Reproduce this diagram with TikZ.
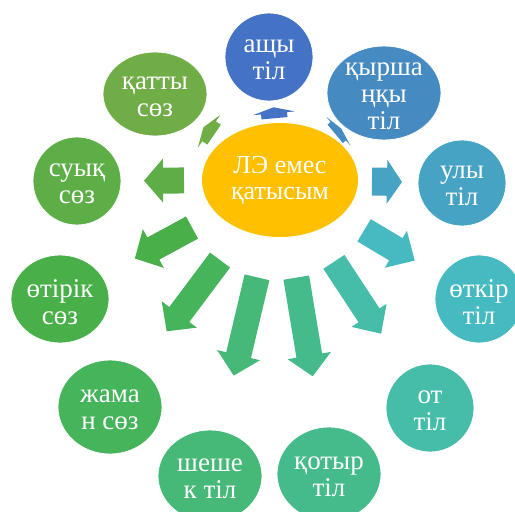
\documentclass[tikz,border=0pt]{standalone}
\usepackage{fontspec}
\setmainfont{Liberation Serif}
\usetikzlibrary{shapes.geometric,calc}

\definecolor{hubfill}{HTML}{FFC000}
\definecolor{cAshy}{HTML}{4472C4}
\definecolor{cKyr}{HTML}{468AC2}
\definecolor{cUly}{HTML}{47A3C4}
\definecolor{cOtkir}{HTML}{45BAC0}
\definecolor{cOt}{HTML}{45BDA8}
\definecolor{cKotyr}{HTML}{45BB8C}
\definecolor{cShesh}{HTML}{46B877}
\definecolor{cZham}{HTML}{46B45B}
\definecolor{cOtirik}{HTML}{49B049}
\definecolor{cSuyk}{HTML}{5EAE48}
\definecolor{cKatty}{HTML}{70AD47}

\tikzset{
  bubble/.style={ellipse, fill=#1, draw=white, line width=0.8pt, inner sep=0pt},
  bubbletext/.style={text=white, align=center, inner sep=0pt, yshift=-3pt,
                     font=\fontsize{27}{27}\selectfont},
}

% a coloured bubble with its centred caption
\newcommand\bubble[7]{%
  \node[bubble=#6, minimum width=#4pt, minimum height=#5pt,
        label={[bubbletext]center:{#7}}] (#1) at (#2,#3) {};}

% a block arrow on the line from the hub to a bubble:
% target, start, tip, head length, shaft half width, head half width, colour
\newcommand\ray[7]{%
  \pgfmathsetmacro\raybase{#3-#4}%
  \coordinate (rs) at ($(hub)!#2pt!(#1)$);
  \coordinate (rt) at ($(hub)!#3pt!(#1)$);
  \coordinate (rb) at ($(hub)!\raybase pt!(#1)$);
  \fill[#7] ($(rs)!#5pt!90:(rt)$) -- ($(rb)!#5pt!90:(rt)$)
    -- ($(rb)!#6pt!90:(rt)$) -- (rt) -- ($(rb)!#6pt!-90:(rt)$)
    -- ($(rb)!#5pt!-90:(rt)$) -- ($(rs)!#5pt!-90:(rt)$) -- cycle;}

\begin{document}
\begin{tikzpicture}[x=1pt, y=-1pt]
\useasboundingbox (0,0) rectangle (515,512);

% centre
\node[ellipse, fill=hubfill, inner sep=0pt, minimum width=156pt, minimum height=114pt,
      text=white, align=center, font=\fontsize{26}{26}\selectfont] (hub) at (280,180)
      {ЛЭ емес\\қатысым};

% surrounding bubbles
\bubble{ashy}{269}{57}{88}{88}{cAshy}{ащы\\тіл}
\bubble{kyr}{384}{93}{114}{94}{cKyr}{қырша\\ңқы\\тіл}
\bubble{uly}{462}{183}{88}{86}{cUly}{улы\\тіл}
\bubble{otkir}{479}{299}{88}{88}{cOtkir}{өткір\\тіл}
\bubble{ot}{430}{408}{88}{88}{cOt}{от\\тіл}
\bubble{kotyr}{329}{474}{104}{94}{cKotyr}{қотыр\\тіл}
\bubble{shesh}{210}{476}{104}{92}{cShesh}{шеше\\к тіл}
\bubble{zham}{110}{407}{104}{94}{cZham}{жама\\н сөз}
\bubble{otirik}{60}{299}{98}{88}{cOtirik}{өтірік\\сөз}
\bubble{suyk}{77}{181}{88}{88}{cSuyk}{суық\\сөз}
\bubble{katty}{155}{94}{104}{84}{cKatty}{қатты\\сөз}

% arrows from the centre
\ray{ashy}{62}{73}{6}{13}{21}{cAshy}
\ray{kyr}{72}{80}{4}{12}{19}{cKyr}
\ray{uly}{92}{122}{15}{14}{22}{cUly}
\ray{otkir}{98}{157}{22}{13}{21.5}{cOtkir}
\ray{ot}{98}{184}{22}{12.6}{21}{cOt}
\ray{kotyr}{99}{199}{21}{13}{22}{cKotyr}
\ray{shesh}{100}{201}{21}{12.7}{22}{cShesh}
\ray{zham}{100}{189}{21}{12.5}{22}{cZham}
\ray{otirik}{100}{165}{21}{12.6}{22}{cOtirik}
\ray{suyk}{96}{136}{19}{13}{22}{cSuyk}
\ray{katty}{80}{93}{7}{12}{20}{cKatty}
\end{tikzpicture}
\end{document}
